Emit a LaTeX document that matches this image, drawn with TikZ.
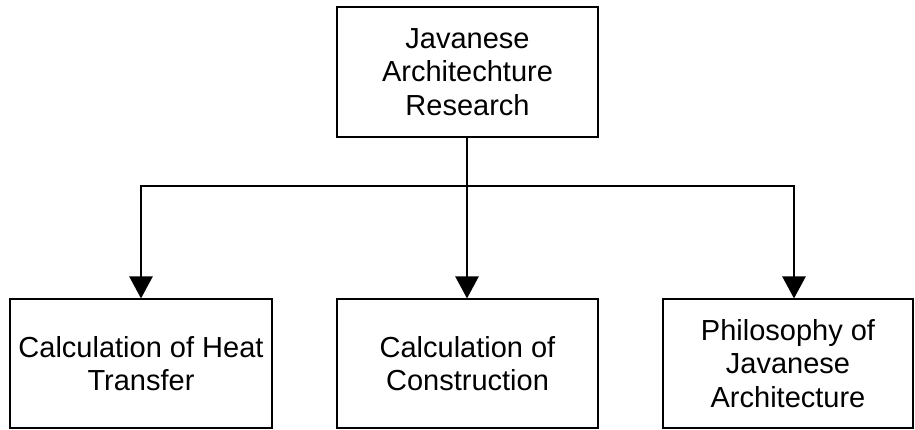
\documentclass[tikz,border=0pt]{standalone}
\usepackage{fontspec}
\setmainfont{Liberation Sans}
\usetikzlibrary{arrows.meta}
\begin{document}
\begin{tikzpicture}[x=1pt,y=-1pt,
  box/.style={draw, line width=1.1pt, align=center, font=\fontsize{29}{33.5}\selectfont, inner sep=0pt},
  conn/.style={line width=2.6pt},
  arr/.style={conn, -{Triangle[width=23pt,length=22pt]}}]
\useasboundingbox (0,0) rectangle (915,430);
\node[box, minimum width=261pt, minimum height=130pt] (top) at (467.5,72) {Javanese\\Architechture\\Research};
\node[box, minimum width=262pt, minimum height=129pt] (b1) at (141,363.5) {Calculation of Heat\\Transfer};
\node[box, minimum width=261pt, minimum height=129pt] (b2) at (467.5,363.5) {Calculation of\\Construction};
\node[box, minimum width=250pt, minimum height=129pt] (b3) at (788,363.5) {Philosophy of\\Javanese\\Architecture};
\coordinate (j) at (467,186);
\coordinate (l) at (141,186);
\coordinate (r) at (794,186);
\draw[conn] (top.south -| j) -- (j);
\draw[conn, line cap=rect] (l) -- (r);
\draw[arr] (l) -- (l |- b1.north);
\draw[arr] (j) -- (j |- b2.north);
\draw[arr] (r) -- (r |- b3.north);
\end{tikzpicture}
\end{document}
